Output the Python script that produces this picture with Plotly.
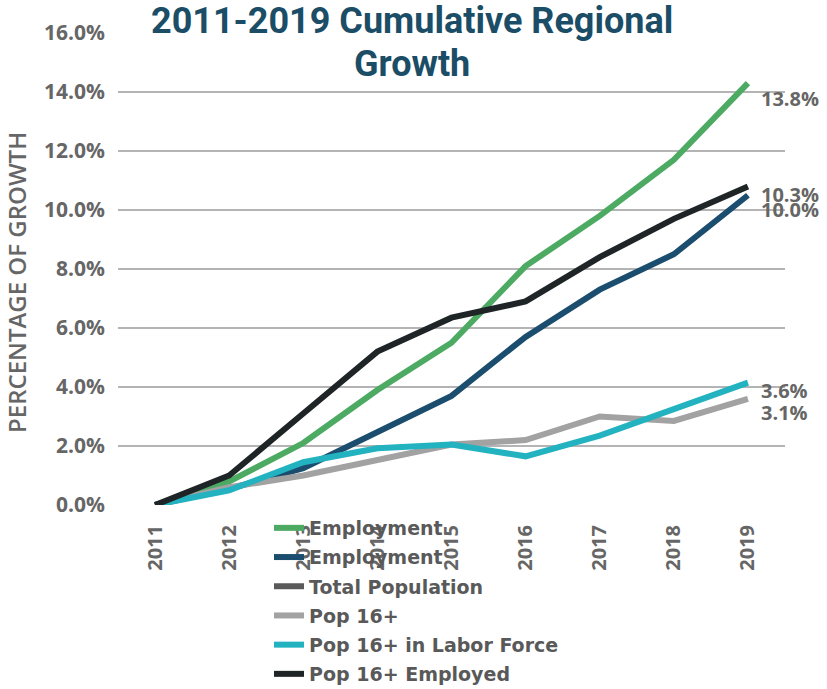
import plotly.graph_objects as go

years = ["2011", "2012", "2013", "2014", "2015", "2016", "2017", "2018", "2019"]

employment_a = [0.0, 0.8, 2.1, 3.9, 5.5, 8.1, 9.8, 11.7, 14.3]
employment_b = [0.0, 0.55, 1.25, 2.45, 3.7, 5.7, 7.3, 8.5, 10.5]
total_population = [None] * 9
pop16 = [0.0, 0.6, 1.0, 1.5, 2.05, 2.2, 3.0, 2.85, 3.6]
pop16_labor = [0.0, 0.5, 1.45, 1.92, 2.05, 1.65, 2.35, 3.25, 4.15]
pop16_employed = [0.0, 1.0, 3.1, 5.2, 6.35, 6.9, 8.4, 9.7, 10.8]

series_names = ["Employment", "Employment", "Total Population", "Pop 16+",
                "Pop 16+ in Labor Force", "Pop 16+ Employed"]
series_values = [employment_a, employment_b, total_population, pop16, pop16_labor, pop16_employed]
series_colors = ["#4caa62", "#1b4d6e", "#5a5a5a", "#a2a2a2", "#22b2c0", "#1f2526"]

end_labels = ["13.8%", "10.0%", None, "3.1%", "3.6%", "10.3%"]
end_label_shift = [-15, -14, 0, -14, -8, -8]

fig = go.Figure()
for i, (name, vals, col) in enumerate(zip(series_names, series_values, series_colors)):
    fig.add_trace(go.Scatter(
        x=years, y=vals, name=name, mode="lines",
        line=dict(color=col, width=6),
        legendgroup=f"g{i}",
    ))

last_idx = len(years) - 1
for vals, lab, sh in zip(series_values, end_labels, end_label_shift):
    if lab is None:
        continue
    fig.add_annotation(
        x=last_idx, y=vals[-1], text=lab, showarrow=False,
        xanchor="left", yanchor="middle", xshift=11, yshift=sh,
        font=dict(family="Open Sans", size=20, color="#666666", weight="bold"),
    )

title_x = (412 - 118) / 667
fig.add_annotation(
    text="2011-2019 Cumulative Regional", xref="paper", yref="paper",
    x=title_x, y=(505 - 21) / 472, showarrow=False,
    xanchor="center", yanchor="middle",
    font=dict(family="Roboto", size=36, color="#1b4d66", weight="bold"),
)
fig.add_annotation(
    text="Growth", xref="paper", yref="paper",
    x=title_x, y=(505 - 64) / 472, showarrow=False,
    xanchor="center", yanchor="middle",
    font=dict(family="Roboto", size=36, color="#1b4d66", weight="bold"),
)
fig.add_annotation(
    text="PERCENTAGE OF GROWTH", xref="paper", yref="paper",
    x=0, y=(505 - 283) / 472, xshift=-102, showarrow=False, textangle=-90,
    xanchor="center", yanchor="middle",
    font=dict(family="Open Sans", size=24, color="#666666", weight=600),
)

fig.update_layout(
    width=827, height=689,
    margin=dict(l=118, r=42, t=33, b=184, autoexpand=False),
    paper_bgcolor="white", plot_bgcolor="white",
    showlegend=True,
    legend=dict(
        x=(269 - 118) / 667, y=(505 - 509) / 472, xanchor="left", yanchor="top",
        font=dict(family="DejaVu Sans", size=19, color="#595959", weight="bold"),
        tracegroupgap=1.5, bgcolor="rgba(0,0,0,0)",
    ),
    xaxis=dict(
        type="category", range=[-0.5, 8.5], tickangle=-90,
        showgrid=False, showline=False, zeroline=False, ticks="",
        ticklabelstandoff=15,
        tickfont=dict(family="Open Sans", size=20, color="#666666", weight="bold"),
    ),
    yaxis=dict(
        range=[0, 16], dtick=2, tickformat=".1f", ticksuffix="%",
        showgrid=True, gridcolor="#b4b4b4", gridwidth=2, zeroline=False,
        showline=False, ticks="", ticklabelstandoff=12,
        tickfont=dict(family="Open Sans", size=21, color="#666666", weight="bold"),
    ),
)

fig.write_html("out.html")
